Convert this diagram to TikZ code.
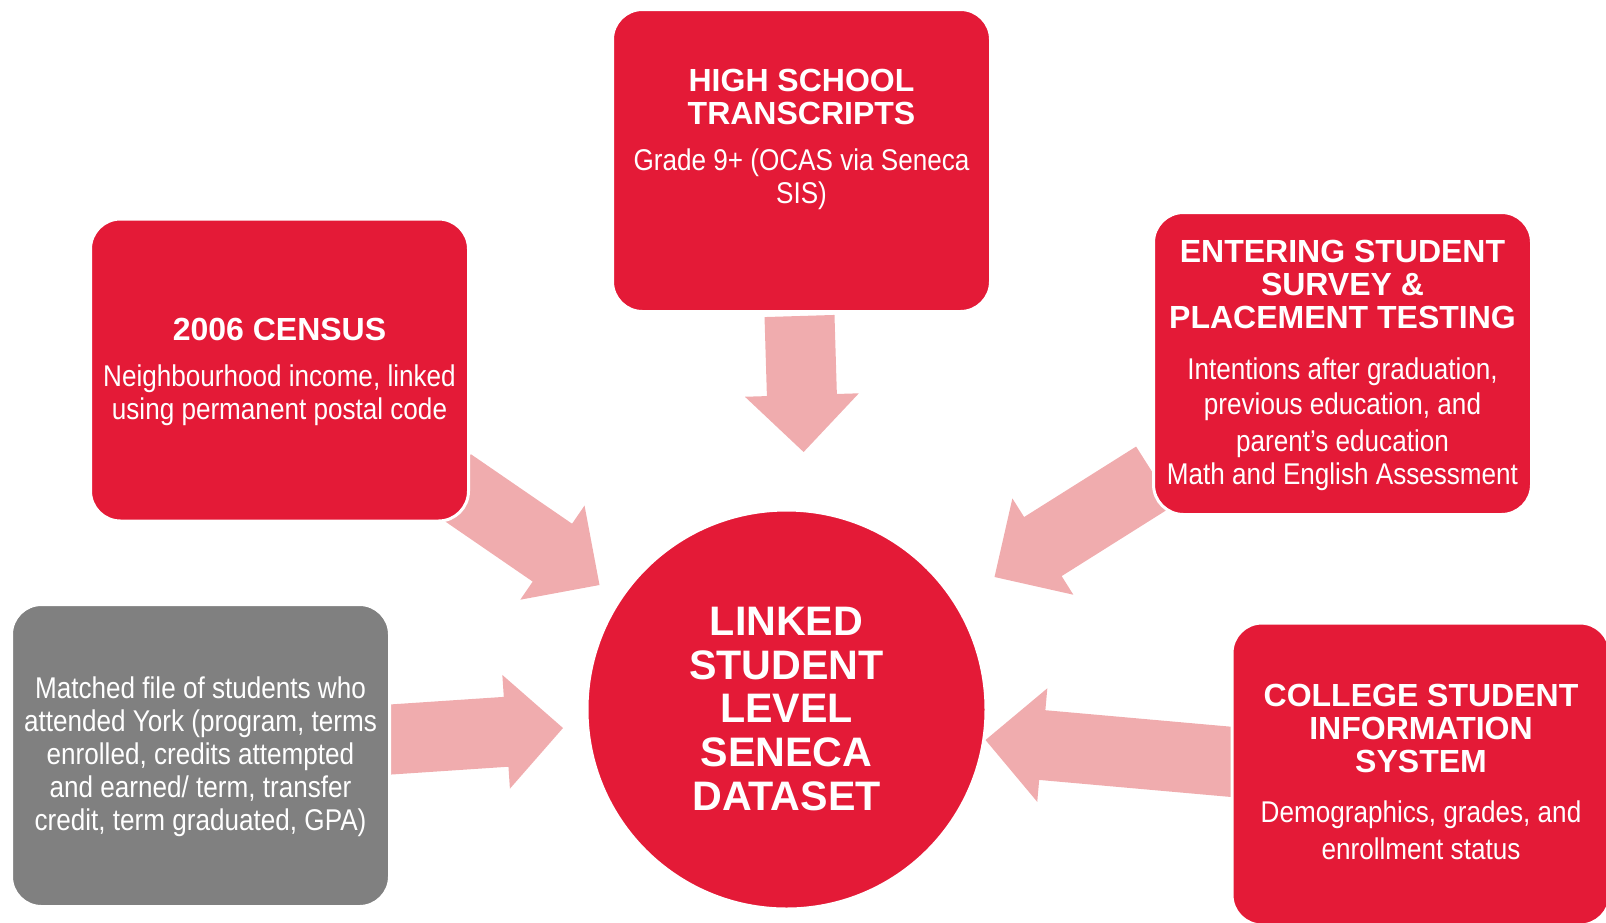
\documentclass[tikz,border=0pt]{standalone}
\usepackage{fontspec}
\setmainfont{Liberation Sans}
\newfontfamily\narrowfont{Liberation Sans}[FakeStretch=0.87]
\definecolor{seneca_red}{RGB}{228, 26, 55}
\definecolor{arrow_pink}{RGB}{240, 172, 174}
\definecolor{york_gray}{RGB}{128, 128, 128}
\usetikzlibrary{calc, positioning}

\begin{document}
\begin{tikzpicture}[x=0.5pt, y=-0.5pt,
    srcbox/.style={draw=white, line width=1.5pt, fill=seneca_red, rounded corners=15pt,
                   minimum width=189pt, minimum height=151pt, inner sep=0pt},
    hub/.style={circle, draw=white, line width=1.5pt, fill=seneca_red,
                minimum size=199.5pt, inner sep=0pt},
    boxtitle/.style={text=white, anchor=base, align=center, inner sep=0pt,
                     font=\fontsize{16}{16.5}\selectfont\bfseries},
    boxtext/.style={text=white, anchor=base, align=center, inner sep=0pt,
                    font=\narrowfont\fontsize{15}{16.4}\selectfont},
    hubtitle/.style={text=white, anchor=base, align=center, inner sep=0pt,
                     font=\fontsize{20.6}{21.95}\selectfont\bfseries},
    fat arrow/.style={fill=arrow_pink, draw=none,
      to path={let \p1=($(\tikztotarget)-(\tikztostart)$),
                   \n1={atan2(\y1,\x1)},
                   \n2={veclen(\x1,\y1)-28.5pt} in
        (\tikztostart) ++(\n1+90:17.5pt) -- ++(\n1:\n2) -- ++(\n1+90:11pt)
        -- (\tikztotarget)
        -- ($(\tikztotarget)+(\n1+180:28.5pt)+(\n1-90:28.5pt)$)
        -- ++(\n1+90:11pt) -- ++(\n1+180:\n2) -- cycle}}
  ]
  \useasboundingbox (0,0) rectangle (1606,922);
  \clip (0,0) rectangle (1606,922);

  \coordinate (hs_tail) at (799.5,316);
  \coordinate (hs_tip) at (803.6,452);
  \coordinate (census_tail) at (451,483);
  \coordinate (census_tip) at (599.5,585);
  \coordinate (entry_tail) at (1155,476);
  \coordinate (entry_tip) at (994.5,577);
  \coordinate (college_tail) at (1244,763);
  \coordinate (college_tip) at (985.5,740);
  \coordinate (york_tail) at (368,741);
  \coordinate (york_tip) at (563,728);

  \foreach \src in {hs, census, entry, college, york}
    \path[fat arrow] (\src_tail) to (\src_tip);

  \node[srcbox] (hs) at (801.5,160.5) {};
  \node[srcbox] (census) at (279.5,370) {};
  \node[srcbox] (entry) at (1342.5,363.5) {};
  \node[srcbox] (college) at (1421,774) {};
  \node[srcbox, fill=york_gray] (york) at (200.5,755.5) {};
  \node[hub] (linked) at (786.5,709.5) {};

  \node[boxtitle] (hs_title) at (801.5,124.4) {HIGH SCHOOL\\TRANSCRIPTS};
  \node[boxtext] (hs_text) at (801.5,203) {Grade 9+ (OCAS via Seneca\\SIS)};
  \node[boxtitle] (census_title) at (279.5,340.6) {2006 CENSUS};
  \node[boxtext] (census_text) at (279.5,419)
    {Neighbourhood income, linked\\using permanent postal code};
  \node[boxtitle] (entry_title) at (1342.5,328.7)
    {ENTERING STUDENT\\SURVEY \&\\PLACEMENT TESTING};
  \node[boxtext] (entry_text) at (1342.5,484)
    {Intentions after graduation,\\[0.65pt]previous education, and\\[2.2pt]parent’s education\\Math and English Assessment};
  \node[boxtitle] (college_title) at (1421,772.8)
    {COLLEGE STUDENT\\INFORMATION\\SYSTEM};
  \node[boxtext] (college_text) at (1421,859.4)
    {Demographics, grades, and\\[1.9pt]enrollment status};
  \node[boxtext] (york_text) at (200.5,830)
    {Matched file of students who\\attended York (program, terms\\enrolled, credits attempted\\and earned/ term, transfer\\credit, term graduated, GPA)};
  \node[hubtitle] (linked_title) at (786.5,810.7)
    {LINKED\\STUDENT\\LEVEL\\SENECA\\DATASET};
\end{tikzpicture}
\end{document}
